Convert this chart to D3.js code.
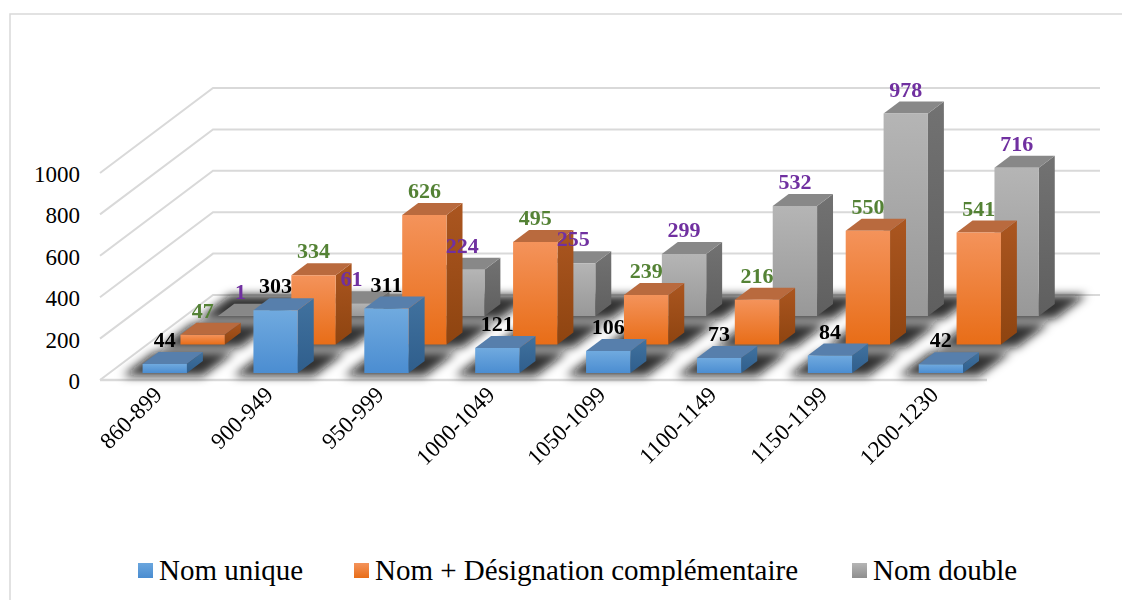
<!DOCTYPE html>
<html>
<head>
<meta charset="utf-8">
<script src="https://cdn.jsdelivr.net/npm/d3@7"></script>
</head>
<body style="margin:0">
<svg id="chart" width="1122" height="600"></svg>
<script>
// Data
const categories = ["860-899", "900-949", "950-999", "1000-1049", "1050-1099", "1100-1149", "1150-1199", "1200-1230"];
const seriesNames = ["Nom unique", "Nom + Désignation complémentaire", "Nom double"];
const nomUnique = [44, 303, 311, 121, 106, 73, 84, 42];
const nomDesignation = [47, 334, 626, 495, 239, 216, 550, 541];
const nomDouble = [1, 61, 224, 255, 299, 532, 978, 716];
const yTicks = [0, 200, 400, 600, 800, 1000];

const seriesValues = [nomUnique, nomDesignation, nomDouble];
const FONT = '"Liberation Serif", "Times New Roman", Tinos, serif';
const setFont = sel => sel.attr("font-family", FONT).style("font-family", FONT, "important");

// Styling per series
const styles = [
  { front: ["#70aadf", "#4b8dd1"], side: ["#41729f", "#2f5e8c"], top: "#577fac", label: "#000000", key: ["#6aa6de", "#4a8cd0"] },
  { front: ["#f4935b", "#e86d17"], side: ["#ab5620", "#8e4410"], top: "#b96a3e", label: "#548235", key: ["#f4935b", "#e86d17"] },
  { front: ["#b5b5b5", "#989898"], side: ["#727272", "#5f5f5f"], top: "#888888", label: "#7030a0", key: ["#b5b5b5", "#8e8e8e"] }
];

const svg = d3.select("#chart");
setFont(svg);

// Oblique 3-D projection: x along categories, v = value, d = depth into the scene
const floorY = 380, depthMax = 85, kx = 113 / 85, barDepth = 12;
const x = d3.scaleBand().domain(categories).range([100, 987]);
const h = d3.scaleLinear().domain([0, 1000]).range([0, 207]);
const depth = d3.scalePoint().domain(seriesNames).range([7, 64]);
const P = (px, v, d) => [px + d * kx, floorY - d - h(v)];
const poly = pts => pts.map(p => p.join(",")).join(" ");

const defs = svg.append("defs");
styles.forEach((s, i) => {
  const gf = defs.append("linearGradient").attr("id", "front" + i).attr("x1", 0).attr("y1", 0).attr("x2", 0).attr("y2", 1);
  gf.append("stop").attr("offset", "0%").attr("stop-color", s.front[0]);
  gf.append("stop").attr("offset", "100%").attr("stop-color", s.front[1]);
  const gs = defs.append("linearGradient").attr("id", "side" + i).attr("x1", 0).attr("y1", 0).attr("x2", 0).attr("y2", 1);
  gs.append("stop").attr("offset", "0%").attr("stop-color", s.side[0]);
  gs.append("stop").attr("offset", "100%").attr("stop-color", s.side[1]);
  const gk = defs.append("linearGradient").attr("id", "key" + i).attr("x1", 0).attr("y1", 0).attr("x2", 0).attr("y2", 1);
  gk.append("stop").attr("offset", "0%").attr("stop-color", s.key[0]);
  gk.append("stop").attr("offset", "100%").attr("stop-color", s.key[1]);
});
defs.append("filter").attr("id", "soft").attr("x", "-50%").attr("y", "-50%").attr("width", "200%").attr("height", "200%")
  .append("feGaussianBlur").attr("stdDeviation", 5);

// Chart frame
svg.append("rect").attr("x", 10).attr("y", 14).attr("width", 1130).attr("height", 600)
  .attr("fill", "none").attr("stroke", "#d9d9d9").attr("stroke-width", 1.5);

// Gridlines: left wall diagonal + back wall horizontal
const grid = svg.append("g").attr("fill", "none").attr("stroke", "#d9d9d9").attr("stroke-width", 2);
const xLeft = x.range()[0], xRight = x.range()[1];
yTicks.forEach(t => {
  const a = P(xLeft, t, 0), b = P(xLeft, t, depthMax), c = P(xRight, t, depthMax);
  grid.append("polyline").attr("points", poly([a, b, c]));
});
// Floor front edge
grid.append("line")
  .attr("x1", P(xLeft, 0, 0)[0]).attr("y1", P(xLeft, 0, 0)[1])
  .attr("x2", P(xRight, 0, 0)[0]).attr("y2", P(xRight, 0, 0)[1])
  .attr("stroke-width", 2.5);

// Y tick labels
svg.append("g").selectAll("text").data(yTicks).join("text")
  .call(setFont)
  .attr("x", 80).attr("y", t => P(xLeft, t, 0)[1] + 9)
  .attr("text-anchor", "end")
  .attr("font-size", 23).attr("fill", "#000").text(t => t);

// Build bar records
const bars = [];
seriesNames.forEach((s, si) => {
  categories.forEach((c, ci) => {
    const v = seriesValues[si][ci];
    const cx = x(c) + x.bandwidth() / 2, w = x.bandwidth() * 0.4;
    bars.push({ si, ci, v, x0: cx - w / 2, x1: cx + w / 2, d0: depth(s), d1: depth(s) + barDepth });
  });
});

// Floor shadows under each bar
svg.append("g").attr("filter", "url(#soft)").selectAll("polygon").data(bars).join("polygon")
  .attr("points", b => poly([
    P(b.x0 - 16, 0, b.d0 - 3), P(b.x1 + 20, 0, b.d0 - 3),
    P(b.x1 + 20, 0, b.d1 + 9), P(b.x0 - 16, 0, b.d1 + 9)]))
  .attr("fill", "#111").attr("opacity", 0.85);

// Bars drawn back row first
const order = bars.slice().sort((a, b) => (b.si - a.si) || (a.ci - b.ci));
const g = svg.append("g");
order.forEach(b => {
  const bg = g.append("g");
  bg.append("polygon").attr("points", poly([P(b.x1, 0, b.d0), P(b.x1, 0, b.d1), P(b.x1, b.v, b.d1), P(b.x1, b.v, b.d0)]))
    .attr("fill", `url(#side${b.si})`);
  bg.append("polygon").attr("points", poly([P(b.x0, b.v, b.d0), P(b.x1, b.v, b.d0), P(b.x1, b.v, b.d1), P(b.x0, b.v, b.d1)]))
    .attr("fill", styles[b.si].top);
  bg.append("polygon").attr("points", poly([P(b.x0, 0, b.d0), P(b.x1, 0, b.d0), P(b.x1, b.v, b.d0), P(b.x0, b.v, b.d0)]))
    .attr("fill", `url(#front${b.si})`);
});

// Value labels
svg.append("g").selectAll("text").data(bars).join("text")
  .call(setFont)
  .attr("x", b => P((b.x0 + b.x1) / 2, b.v, b.d0)[0])
  .attr("y", b => P((b.x0 + b.x1) / 2, b.v, b.d0)[1] - 17)
  .attr("text-anchor", "middle").attr("font-size", 22).attr("font-weight", "bold")
  .attr("fill", b => styles[b.si].label).text(b => b.v);

// Category labels, rotated
svg.append("g").selectAll("text").data(categories).join("text")
  .call(setFont)
  .attr("transform", c => `translate(${x(c) + x.bandwidth() / 2 + 8},${floorY + 16}) rotate(-45)`)
  .attr("text-anchor", "end").attr("font-size", 23).attr("fill", "#000").text(c => c);

// Legend
const legendX = [138, 354, 852];
const legend = svg.append("g").selectAll("g").data(seriesNames).join("g")
  .attr("transform", (s, i) => `translate(${legendX[i]},0)`);
legend.append("rect").attr("x", 0).attr("y", 563).attr("width", 15).attr("height", 15)
  .attr("fill", (s, i) => `url(#key${i})`);
legend.append("text").call(setFont)
  .attr("x", 21).attr("y", 580).attr("font-size", 29).attr("fill", "#000").text(s => s);
</script>
</body>
</html>
